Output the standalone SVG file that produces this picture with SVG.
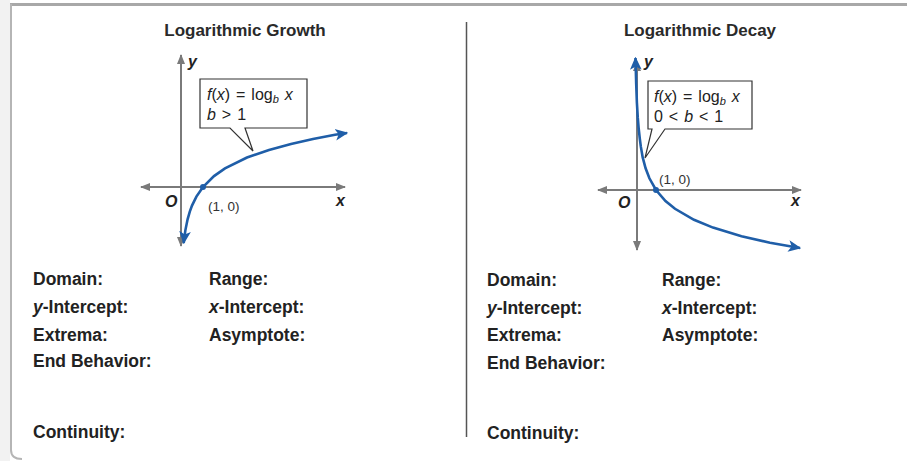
<svg xmlns="http://www.w3.org/2000/svg" width="907" height="461" viewBox="0 0 907 461">
<style>
.title{font-family:"Liberation Sans",Arial,sans-serif;font-weight:bold;font-size:17px;fill:#2a2a2a;text-anchor:middle}
.lbl{font-family:"Liberation Sans",Arial,sans-serif;font-weight:bold;font-size:17.5px;fill:#222}
.ax{font-family:"Liberation Sans",Arial,sans-serif;font-weight:bold;font-style:italic;font-size:16px;fill:#222}
.pt{font-family:"Liberation Sans",Arial,sans-serif;font-size:13.5px;fill:#333}
.eq{font-family:"Liberation Sans",Arial,sans-serif;font-size:16px;fill:#222;word-spacing:1.5px}
.it{font-style:italic}
.axis{stroke:#7a7a7a;stroke-width:2;fill:none;marker-start:url(#ga);marker-end:url(#ga)}
.curve{stroke:#1f5ea8;stroke-width:2.6;fill:none;marker-start:url(#ba);marker-end:url(#ba)}
.callout{fill:#fff;stroke:#333;stroke-width:1.2}
</style>
<defs>
<marker id="ga" viewBox="0 0 10 10" refX="9" refY="5" markerWidth="5" markerHeight="5" orient="auto-start-reverse" markerUnits="strokeWidth"><path d="M0,1 L10,5 L0,9 Z" fill="#7a7a7a"/></marker>
<marker id="ba" viewBox="0 0 10 10" refX="9" refY="5" markerWidth="5" markerHeight="5" orient="auto-start-reverse" markerUnits="strokeWidth"><path d="M0,0.5 L10,5 L0,9.5 L2.5,5 Z" fill="#1f5ea8"/></marker>
</defs>
<rect width="907" height="461" fill="#fff"/>
<g id="frame">
<rect x="0" y="0" width="10" height="461" fill="#f2f2f2"/>
<line x1="10" y1="4.5" x2="907" y2="4.5" stroke="#a8a8a8" stroke-width="3"/>
<path d="M11,4 L11,450 Q11,459 22,459" fill="none" stroke="#b5b5b5" stroke-width="2"/>
<line x1="466.5" y1="22" x2="466.5" y2="437" stroke="#555" stroke-width="1.5"/>
</g>
<g id="left-panel">
<text class="title" x="245" y="36">Logarithmic Growth</text>
<g id="left-graph">
<path class="axis" d="M141,187 H345"/>
<path class="axis" d="M181,55 V246"/>
<text class="ax" x="188" y="67">y</text>
<text class="ax" x="165" y="207">O</text>
<text class="ax" x="336" y="206">x</text>
<text class="pt" x="208" y="211">(1, 0)</text>
</g>
<g id="connectors-left">
<path class="curve" d="M183.7,243 L184.3,237.8 L185.4,230.1 L187.6,219.3 L189.8,211.6 L192,205.6 L196.4,196.6 L203,187 L214,176.1 L225,168.4 L247,157.5 L269,149.9 L291,143.9 L313,139 L335,134.8 L347,133"/>
<circle cx="203" cy="187" r="3" fill="#1f5ea8"/>
</g>
<g id="left-callout">
<path class="callout" d="M200,79 H307 V128 H245 L253,151 L230,128 H200 Z"/>
<text class="eq" x="207" y="100"><tspan class="it">f</tspan>(<tspan class="it">x</tspan>) = log<tspan class="it" font-size="11" dy="3">b</tspan><tspan dy="-3"> </tspan><tspan class="it">x</tspan></text>
<text class="eq" x="207" y="120"><tspan class="it">b</tspan> &gt; 1</text>
</g>
<g id="left-labels">
<text class="lbl" x="33" y="285">Domain:</text>
<text class="lbl" x="209" y="285">Range:</text>
<text class="lbl" x="33" y="313"><tspan class="it">y</tspan>-Intercept:</text>
<text class="lbl" x="209" y="313"><tspan class="it">x</tspan>-Intercept:</text>
<text class="lbl" x="33" y="341">Extrema:</text>
<text class="lbl" x="209" y="341">Asymptote:</text>
<text class="lbl" x="33" y="367">End Behavior:</text>
<text class="lbl" x="33" y="438">Continuity:</text>
</g>
</g>
<g id="right-panel">
<text class="title" x="700" y="36">Logarithmic Decay</text>
<g id="right-graph">
<path class="axis" d="M598,190 H801"/>
<path class="axis" d="M637,62 V250"/>
<text class="ax" x="644" y="67">y</text>
<text class="ax" x="618" y="208">O</text>
<text class="ax" x="791" y="206">x</text>
<text class="pt" x="659" y="184">(1, 0)</text>
</g>
<g id="connectors-right">
<path class="curve" d="M635.5,58 L636.2,84 L636.9,102.8 L637.8,117.9 L638.6,127.6 L639.8,138.6 L640.8,146.4 L642.7,157.4 L645.6,168.3 L649.4,178.3 L656,190 L665.5,201 L675,208.8 L694,219.8 L713,227.6 L741.5,236.2 L770,242.7 L800,248"/>
<circle cx="656" cy="190" r="3" fill="#1f5ea8"/>
</g>
<g id="right-callout">
<path class="callout" d="M648,81 H752 V129 H665 L645,158 L652,129 H648 Z"/>
<text class="eq" x="654" y="102"><tspan class="it">f</tspan>(<tspan class="it">x</tspan>) = log<tspan class="it" font-size="11" dy="3">b</tspan><tspan dy="-3"> </tspan><tspan class="it">x</tspan></text>
<text class="eq" x="654" y="122">0 &lt; <tspan class="it">b</tspan> &lt; 1</text>
</g>
<g id="right-labels">
<text class="lbl" x="487" y="286">Domain:</text>
<text class="lbl" x="662" y="286">Range:</text>
<text class="lbl" x="487" y="314"><tspan class="it">y</tspan>-Intercept:</text>
<text class="lbl" x="662" y="314"><tspan class="it">x</tspan>-Intercept:</text>
<text class="lbl" x="487" y="341">Extrema:</text>
<text class="lbl" x="662" y="341">Asymptote:</text>
<text class="lbl" x="487" y="369">End Behavior:</text>
<text class="lbl" x="487" y="439">Continuity:</text>
</g>
</g>
</svg>
